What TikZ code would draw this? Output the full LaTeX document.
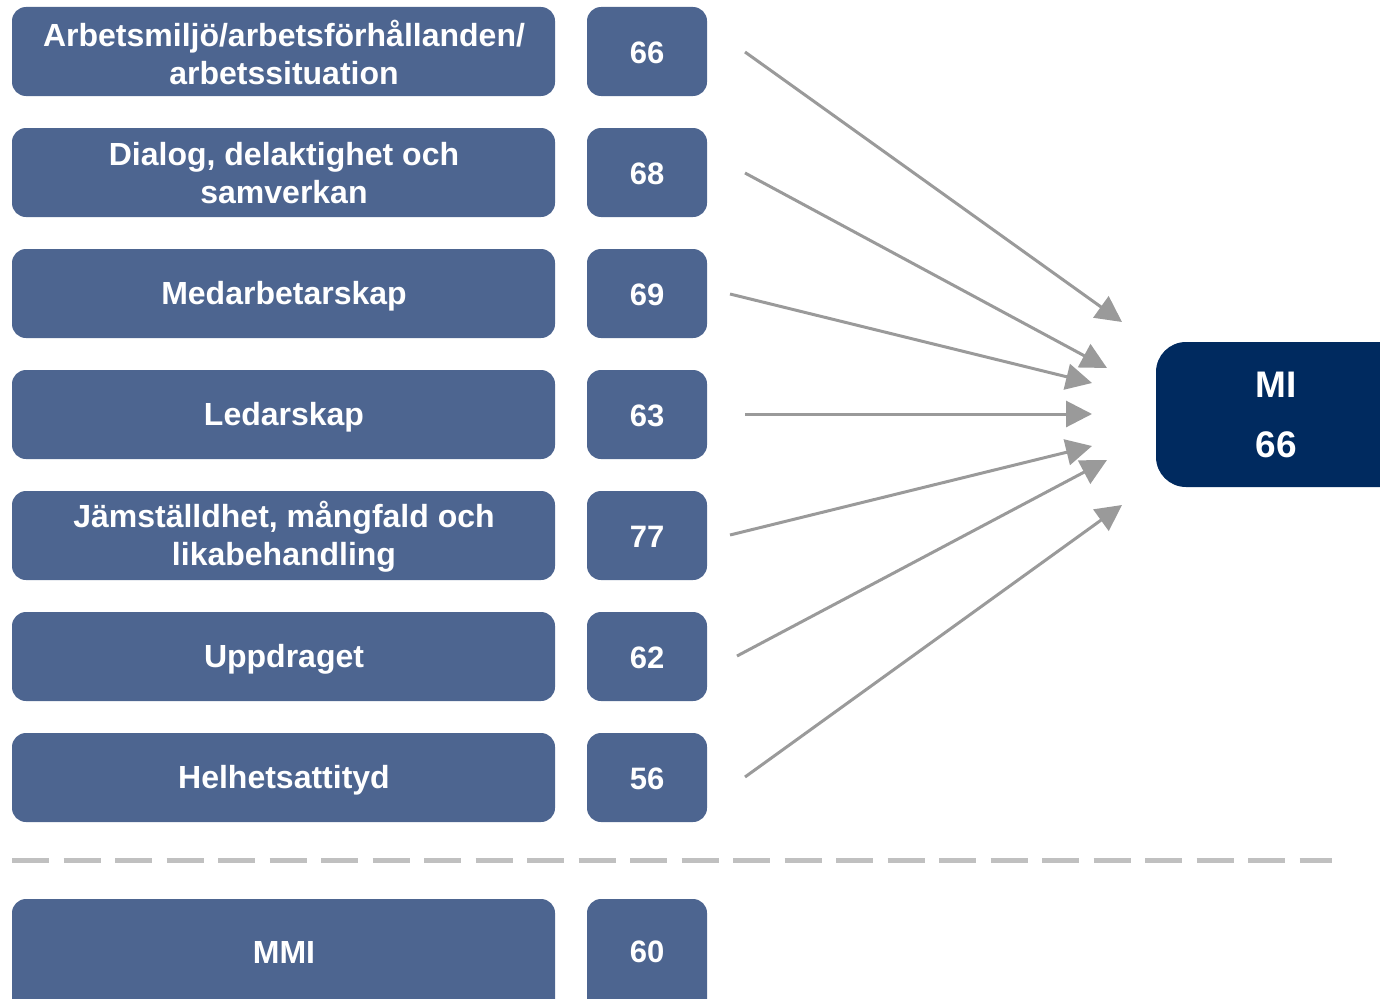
\documentclass[tikz,border=0pt]{standalone}
\usepackage{fontspec}
\setmainfont{Liberation Sans}
\usetikzlibrary{arrows.meta}
\definecolor{boxblue}{HTML}{4D6590}
\definecolor{navy}{HTML}{002A5F}
\definecolor{arrowgray}{HTML}{9A9A9A}
\definecolor{dashgray}{HTML}{C0C0C0}
\begin{document}
\begin{tikzpicture}[x=1pt,y=-1pt,
  catbox/.style={fill=boxblue,rounded corners=14pt,text=white,font=\bfseries\fontsize{32}{38}\selectfont,align=center,inner sep=0pt},
  numbox/.style={fill=boxblue,rounded corners=14pt,text=white,font=\bfseries\fontsize{31}{37}\selectfont,inner sep=0pt},
  conn/.style={draw=arrowgray,line width=3pt,-{Triangle[length=26pt,width=26pt]}}]
\useasboundingbox (0,0) rectangle (1380,998);
\foreach \i/\txt/\num/\dy in {1/{Arbetsmiljö/arbetsförhållanden/\\arbetssituation}/66/0.5,
  2/{Dialog, delaktighet och\\samverkan}/68/1,
  3/{Medarbetarskap}/69/3,
  4/{Ledarskap}/63/3,
  5/{Jämställdhet, mångfald och\\likabehandling}/77/1,
  6/{Uppdraget}/62/3,
  7/{Helhetsattityd}/56/3}{
  \pgfmathsetmacro{\yy}{7+121*(\i-1)}
  \path[catbox] (12,\yy) rectangle ++(543,89);
  \node[catbox] (c\i) at (284,\yy+44.5+\dy) {\txt};
  \path[numbox] (587,\yy) rectangle ++(120,89);
  \node[numbox] (n\i) at (647,\yy+45.5) {\num};
}
\path[catbox] (12,899) rectangle (555,1020);
\node[catbox] (cm) at (284,952) {MMI};
\path[numbox] (587,899) rectangle (707,1020);
\node[numbox] (nm) at (647,952) {60};
\path[fill=navy,rounded corners=30pt] (1156,342) rectangle (1420,487);
\node[text=white,font=\bfseries\fontsize{37}{60}\selectfont,align=center,inner sep=0pt] (mi) at (1276,415) {MI\\66};
\draw[dashgray,line width=5pt,dash pattern=on 37pt off 14.5pt] (12,860) -- (1332,860);
\coordinate (s1) at (745,52);  \coordinate (t1) at (1122,322);
\coordinate (s2) at (745,173); \coordinate (t2) at (1107,368);
\coordinate (s3) at (730,294); \coordinate (t3) at (1092,383);
\coordinate (s4) at (745,414); \coordinate (t4) at (1092,414);
\coordinate (s5) at (730,535); \coordinate (t5) at (1092,446);
\coordinate (s6) at (737,656); \coordinate (t6) at (1107,460);
\coordinate (s7) at (745,777); \coordinate (t7) at (1122,505);
\foreach \i in {1,...,7}{\draw[conn] (s\i) -- (t\i);}
\end{tikzpicture}
\end{document}
